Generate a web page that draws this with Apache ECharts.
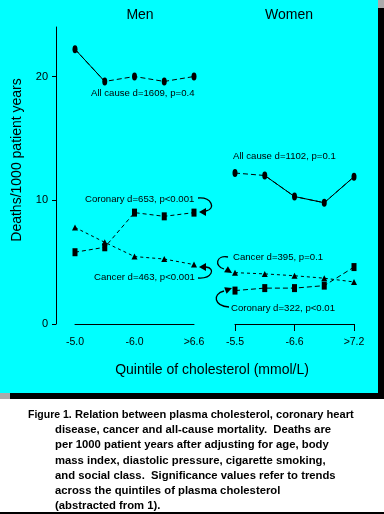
<!DOCTYPE html>
<html><head><meta charset="utf-8">
<script src="https://cdn.jsdelivr.net/npm/echarts@6/dist/echarts.min.js"></script>
<style>html,body{margin:0;padding:0;background:#fff}#c{width:384px;height:514px}</style>
</head><body><div id="c"></div>
<script>
// ---- data ----
const quintiles = ['Q1', 'Q2', 'Q3', 'Q4', 'Q5'];
const menTickLabels = ['-5.0', '', '-6.0', '', '>6.6'];
const womenTickLabels = ['-5.5', '', '-6.6', '', '>7.2'];
const yTickValues = [0, 10, 20];
const menAllCause = [22.2, 19.6, 20.0, 19.6, 20.0];
const menCoronary = [5.8, 6.2, 9.0, 8.7, 9.0];
const menCancer = [7.8, 6.6, 5.45, 5.25, 4.8];
const womenAllCause = [12.2, 12.0, 10.3, 9.8, 11.9];
const womenCancer = [4.15, 4.05, 3.9, 3.7, 3.4];
const womenCoronary = [2.7, 2.9, 2.9, 3.1, 4.6];
const captionLines = [
  'disease, cancer and all-cause mortality.  Deaths are',
  'per 1000 patient years after adjusting for age, body',
  'mass index, diastolic pressure, cigarette smoking,',
  'and social class.  Significance values refer to trends',
  'across the quintiles of plasma cholesterol',
  '(abstracted from 1).'
];

const FONT = 'Liberation Sans, Arial, sans-serif';
const chart = echarts.init(document.getElementById('c'), null, {renderer: 'canvas'});

function lineSeries(name, data, xi, symbol, size, dash) {
  return {
    name, type: 'line', xAxisIndex: xi, yAxisIndex: xi, data,
    symbol, symbolSize: size, showSymbol: true,
    itemStyle: {color: '#000'},
    lineStyle: {color: '#000', width: 1, type: dash},
    emphasis: {disabled: true}, animation: false, z: 5
  };
}
function solidPart(data, from, to, xi) {
  return {
    type: 'line', xAxisIndex: xi, yAxisIndex: xi,
    data: data.map((v, i) => (i >= from && i <= to) ? v : '-'),
    symbol: 'none', lineStyle: {color: '#000', width: 1, type: 'solid'},
    animation: false, z: 6
  };
}

const axisLabelX = (labels) => ({
  color: '#000', fontFamily: FONT, fontSize: 10.5, margin: 11,
  interval: 0, formatter: (v, i) => labels[i]
});

const g = [];
// background panel and shadows
g.push({type: 'rect', z: -10, shape: {x: 0, y: 0, width: 378, height: 393}, style: {fill: '#00FFFF'}});
g.push({type: 'rect', z: -10, shape: {x: 378, y: 0, width: 6, height: 8}, style: {fill: '#AAAAAA'}});
g.push({type: 'rect', z: -10, shape: {x: 378, y: 8, width: 6, height: 391}, style: {fill: '#000'}});
g.push({type: 'rect', z: -10, shape: {x: 0, y: 393, width: 10, height: 6}, style: {fill: '#AAAAAA'}});
g.push({type: 'rect', z: -10, shape: {x: 10, y: 393, width: 374, height: 6}, style: {fill: '#000'}});
g.push({type: 'rect', z: -10, shape: {x: 0, y: 512, width: 384, height: 2}, style: {fill: '#000'}});
// panel titles
g.push({type: 'text', x: 140, y: 15, style: {text: 'Men', font: '14px ' + FONT, fill: '#000', align: 'center', verticalAlign: 'middle'}});
g.push({type: 'text', x: 289, y: 15, style: {text: 'Women', font: '14px ' + FONT, fill: '#000', align: 'center', verticalAlign: 'middle'}});
// axis titles
g.push({type: 'text', x: 17, y: 160, rotation: Math.PI / 2, style: {text: 'Deaths/1000 patient years', font: '14px ' + FONT, fill: '#000', align: 'center', verticalAlign: 'middle'}});
g.push({type: 'text', x: 212, y: 370, style: {text: 'Quintile of cholesterol (mmol/L)', font: '14px ' + FONT, fill: '#000', align: 'center', verticalAlign: 'middle'}});
// annotations
const ann = [
  ['All cause d=1609, p=0.4', 91, 93],
  ['Coronary d=653, p<0.001', 85, 199],
  ['Cancer d=463, p<0.001', 94, 277],
  ['All cause d=1102, p=0.1', 233, 156],
  ['Cancer d=395, p=0.1', 233, 257],
  ['Coronary d=322, p<0.01', 231, 308]
];
ann.forEach(a => g.push({type: 'text', x: a[1], y: a[2], style: {text: a[0], font: '9.6px ' + FONT, fill: '#000', align: 'left', verticalAlign: 'middle'}}));
// curved arrows
const arrows = [
  {c: [198, 198, 206, 211, 212, 197, 216, 209], head: [[199, 212], [206, 208], [206, 216]]},
  {c: [198, 278, 206, 267, 212, 279, 216, 268], head: [[199, 267], [206, 263], [206, 271]]},
  {c: [228, 257, 224, 269, 216, 255, 214, 266], head: [[232, 273], [224.1, 272.3], [227.9, 266.3]]},
  {c: [229, 307, 224, 291, 214, 306, 212, 294], head: [[232, 288], [226.6, 293.8], [224.2, 287.2]]}
];
arrows.forEach(a => {
  g.push({type: 'bezierCurve', shape: {x1: a.c[0], y1: a.c[1], x2: a.c[2], y2: a.c[3], cpx1: a.c[4], cpy1: a.c[5], cpx2: a.c[6], cpy2: a.c[7]},
          style: {fill: 'none', stroke: '#000', lineWidth: 1.3}});
  g.push({type: 'polygon', shape: {points: a.head}, style: {fill: '#000'}});
});
// caption
const capFont = 'bold 11.3px ' + FONT;
g.push({type: 'text', x: 28, y: 415, style: {text: 'Figure 1.', font: 'bold 10.5px ' + FONT, fill: '#000', verticalAlign: 'middle'}});
g.push({type: 'text', x: 75, y: 415, style: {text: 'Relation between plasma cholesterol, coronary heart', font: 'bold 11.1px ' + FONT, fill: '#000', verticalAlign: 'middle'}});
captionLines.forEach((t, i) => g.push({type: 'text', x: 55, y: 430.2 + i * 15.1, style: {text: t, font: capFont, fill: '#000', verticalAlign: 'middle'}}));

const option = {
  backgroundColor: '#fff',
  animation: false,
  graphic: {elements: g},
  grid: [
    {left: 75, top: 27, width: 119, height: 297},
    {left: 235, top: 27, width: 119, height: 297}
  ],
  xAxis: [
    {gridIndex: 0, type: 'category', data: quintiles, boundaryGap: false, offset: 2,
     axisLine: {lineStyle: {color: '#000', width: 1}}, axisTick: {show: false},
     axisLabel: axisLabelX(menTickLabels), splitLine: {show: false}},
    {gridIndex: 1, type: 'category', data: quintiles, boundaryGap: false, offset: 2,
     axisLine: {lineStyle: {color: '#000', width: 1}},
     axisTick: {show: true, interval: 1, length: 7, lineStyle: {color: '#000'}},
     axisLabel: axisLabelX(womenTickLabels), splitLine: {show: false}}
  ],
  yAxis: [
    {gridIndex: 0, type: 'value', min: 0, max: 24, offset: 19,
     axisLine: {show: true, lineStyle: {color: '#000', width: 1}},
     axisTick: {show: true, length: 4, customValues: yTickValues, lineStyle: {color: '#000'}},
     axisLabel: {customValues: yTickValues, color: '#000', fontFamily: FONT, fontSize: 11, margin: 8},
     splitLine: {show: false}},
    {gridIndex: 1, type: 'value', min: 0, max: 24, show: false, splitLine: {show: false}}
  ],
  series: [
    lineSeries('Men all cause', menAllCause, 0, 'circle', [5, 8], [5, 3]),
    solidPart(menAllCause, 0, 1, 0),
    lineSeries('Men coronary', menCoronary, 0, 'rect', [5, 8], [4, 3]),
    lineSeries('Men cancer', menCancer, 0, 'triangle', [6, 6], [3, 3]),
    lineSeries('Women all cause', womenAllCause, 1, 'circle', [5, 8], [5, 3]),
    solidPart(womenAllCause, 1, 4, 1),
    lineSeries('Women cancer', womenCancer, 1, 'triangle', [6, 6], [3, 3]),
    lineSeries('Women coronary', womenCoronary, 1, 'rect', [5, 8], [5, 3])
  ]
};
chart.setOption(option);
</script></body></html>
